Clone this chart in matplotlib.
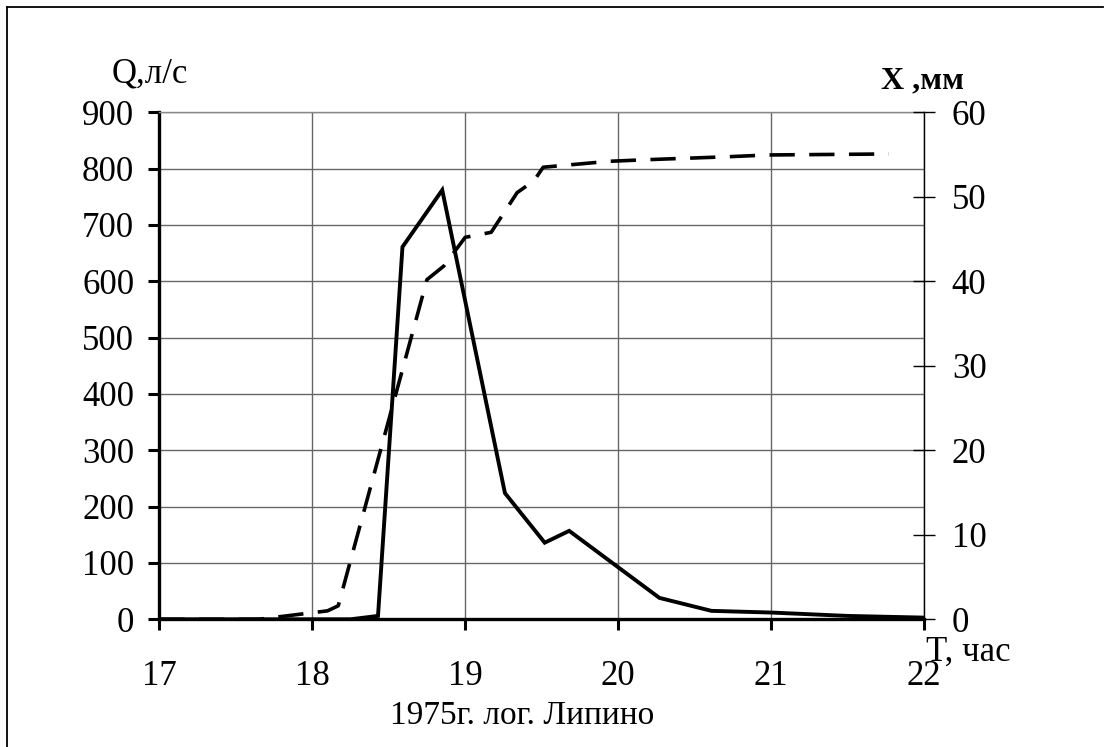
import matplotlib
matplotlib.use("Agg")
import matplotlib.pyplot as plt
from matplotlib.lines import Line2D

plt.rcParams['font.family'] = ['Liberation Serif', 'DejaVu Serif']

# runoff hydrograph Q, l/s
T_Q = [17.0, 18.25, 18.43, 18.59, 18.85, 19.26, 19.52, 19.68, 20.27, 20.61, 21.0, 21.5, 22.0]
Q = [0, 0, 6, 661, 762, 224, 136, 157, 38, 15, 12, 6, 3]

# cumulative rainfall X, mm
T_X = [17.0, 17.65, 18.1, 18.17, 18.75, 18.86, 19.0, 19.17, 19.34, 19.45, 19.51,
       19.94, 20.2, 20.73, 20.98, 21.77]
X = [0, 0, 1.0, 1.6, 40.2, 41.8, 45.2, 45.8, 50.5, 51.9, 53.5,
     54.2, 54.4, 54.75, 54.95, 55.07]

x_ticks = [17, 18, 19, 20, 21, 22]
q_ticks = list(range(0, 901, 100))
x_mm_ticks = list(range(0, 61, 10))

W, H = 1110, 747
fig = plt.figure(figsize=(W / 100, H / 100), dpi=100)
ax = fig.add_axes([159.3 / W, 1 - 619.3 / H, (924 - 159.3) / W, (619.3 - 112.3) / H])

ax.plot(T_Q, Q, color='black', lw=2.8, solid_joinstyle='miter', zorder=5)
ax.set_xlim(17, 22)
ax.set_ylim(0, 900)
ax.set_xticks(x_ticks)
ax.set_yticks(q_ticks)
ax.grid(True, color='#666666', lw=1)
ax.set_axisbelow(True)

for s in ['left', 'bottom']:
    ax.spines[s].set_linewidth(2.4)
    ax.spines[s].set_color('black')
ax.spines['top'].set_color('#888888')
ax.spines['top'].set_linewidth(1)
ax.spines['right'].set_visible(False)
ax.tick_params(axis='y', direction='out', length=8, width=2.2, labelsize=25, pad=10)
ax.tick_params(axis='x', direction='out', length=8, width=2.2, labelsize=25, pad=21)

ax2 = ax.twinx()
ax2.plot(T_X, X, color='black', lw=2.6, dashes=(7, 4), zorder=5)
ax2.set_ylim(0, 60)
ax2.set_yticks(x_mm_ticks)
for s in ['left', 'bottom', 'top']:
    ax2.spines[s].set_visible(False)
ax2.spines['right'].set_linewidth(1)
ax2.tick_params(axis='y', direction='inout', length=16, width=1, labelsize=25, pad=12)

fig.text(112 / W, 1 - 83 / H, 'Q,л/с', fontsize=25, va='baseline', ha='left')
fig.text(881 / W, 1 - 88 / H, 'X ,мм', fontsize=23, fontweight='bold', va='baseline', ha='left')
fig.text(926 / W, 1 - 661 / H, 'T, час', fontsize=25, va='baseline', ha='left')
fig.text(522 / W, 1 - 716 / H, '1975г. лог. Липино', fontsize=24, va='center', ha='center')

# frame around picture (top and left edges)
fig.add_artist(Line2D([7 / W, 1103 / W], [1 - 7 / H, 1 - 7 / H], color='black', lw=1.3))
fig.add_artist(Line2D([7 / W, 7 / W], [1 - 7 / H, 0], color='black', lw=1.3))

fig.savefig('out.png', dpi=100)
